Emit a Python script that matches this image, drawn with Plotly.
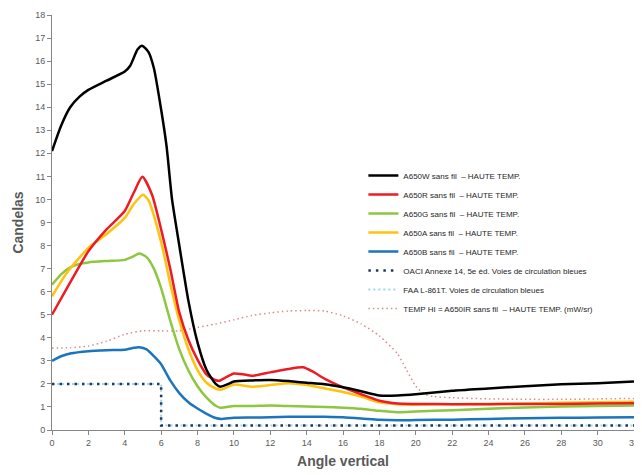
import plotly.graph_objects as go

x_w = [0, 0.5, 1, 1.5, 2, 3, 4, 4.3, 4.7, 4.95, 5.3, 5.6, 6, 6.3, 6.6, 7, 7.5, 8, 8.5, 9, 9.25, 9.7, 10, 11, 12, 13, 14, 15, 16, 17, 18, 19, 20, 22, 24, 26, 28, 30, 32]
y_w = [12.1, 13.2, 14.0, 14.45, 14.75, 15.15, 15.55, 15.8, 16.5, 16.67, 16.4, 15.7, 13.9, 12.3, 10.0, 8.0, 5.6, 3.8, 2.6, 2.0, 1.88, 2.0, 2.1, 2.15, 2.17, 2.12, 2.05, 1.98, 1.85, 1.68, 1.5, 1.5, 1.55, 1.7, 1.8, 1.9, 1.98, 2.03, 2.1]

x_r = [0, 1, 2, 3, 4, 4.5, 4.97, 5.5, 6, 6.5, 7, 7.5, 8, 8.5, 9, 9.2, 9.6, 10, 10.5, 11, 12, 13, 13.8, 14.3, 15, 16, 17, 18, 19, 20, 22, 24, 26, 28, 30, 32]
y_r = [5.0, 6.4, 7.75, 8.7, 9.5, 10.3, 10.98, 10.2, 8.7, 7.0, 5.1, 3.9, 3.05, 2.4, 2.16, 2.14, 2.3, 2.45, 2.42, 2.35, 2.5, 2.65, 2.72, 2.55, 2.22, 1.85, 1.55, 1.27, 1.15, 1.13, 1.12, 1.12, 1.13, 1.13, 1.15, 1.16]

x_g = [0, 0.5, 1, 1.5, 2, 3, 4, 4.4, 4.8, 5.2, 5.6, 6, 6.5, 7, 7.5, 8, 8.5, 9, 9.25, 10, 11, 12, 13, 14, 15, 16, 17, 18, 19, 20, 22, 24, 26, 28, 30, 32]
y_g = [6.3, 6.75, 7.05, 7.2, 7.27, 7.33, 7.38, 7.5, 7.65, 7.5, 7.0, 6.15, 4.75, 3.5, 2.58, 1.9, 1.4, 1.05, 0.97, 1.04, 1.04, 1.06, 1.04, 1.02, 1.0, 0.97, 0.92, 0.83, 0.77, 0.8, 0.86, 0.92, 0.98, 1.02, 1.04, 1.06]

x_a = [0, 0.8, 2, 3, 4, 4.5, 5, 5.3, 6, 6.5, 7, 7.5, 8, 8.5, 9, 9.3, 10, 11, 12, 13, 14, 15, 16, 17, 18, 19, 20, 22, 24, 26, 28, 30, 32]
y_a = [5.8, 6.8, 7.9, 8.5, 9.2, 9.8, 10.2, 9.97, 8.15, 6.35, 4.75, 3.5, 2.6, 2.05, 1.8, 1.75, 1.97, 1.88, 1.95, 2.03, 1.95, 1.8, 1.65, 1.45, 1.2, 1.12, 1.1, 1.12, 1.13, 1.15, 1.18, 1.2, 1.23]

x_b = [0, 0.5, 1, 2, 3, 4, 4.4, 4.8, 5.2, 5.6, 6, 6.5, 7, 7.5, 8, 8.5, 9, 9.3, 10, 11, 12, 13, 14, 15, 16, 17, 18, 19, 20, 22, 24, 26, 28, 30, 32]
y_b = [3.0, 3.2, 3.32, 3.42, 3.46, 3.48, 3.55, 3.59, 3.5, 3.2, 2.85, 2.15, 1.6, 1.2, 0.93, 0.7, 0.52, 0.48, 0.53, 0.54, 0.55, 0.57, 0.58, 0.57, 0.55, 0.5, 0.44, 0.42, 0.43, 0.45, 0.48, 0.51, 0.53, 0.54, 0.55]

x_oaci = [0, 6, 6, 32]
y_oaci = [2, 2, 0.2, 0.2]

x_faa = [0, 6, 6, 32]
y_faa = [2, 2, 0.2, 0.2]

x_ir = [0, 1, 2, 3, 4, 5, 6, 7, 8, 9, 10, 11, 12, 13, 14, 15, 16, 17, 18, 19, 19.5, 20, 20.5, 21, 22, 24, 26, 28, 30, 32]
y_ir = [3.55, 3.57, 3.64, 3.85, 4.15, 4.3, 4.3, 4.3, 4.45, 4.6, 4.78, 4.97, 5.08, 5.16, 5.18, 5.16, 4.95, 4.6, 4.08, 3.3, 2.6, 1.9, 1.55, 1.45, 1.4, 1.35, 1.33, 1.33, 1.35, 1.37]

names = [
    "A650W sans fil  – HAUTE TEMP.",
    "A650R sans fil  – HAUTE TEMP.",
    "A650G sans fil  – HAUTE TEMP.",
    "A650A sans fil  – HAUTE TEMP.",
    "A650B sans fil  – HAUTE TEMP.",
    "OACI Annexe 14, 5e éd. Voies de circulation bleues",
    "FAA L-861T. Voies de circulation bleues",
    "TEMP HI = A650IR sans fil  – HAUTE TEMP. (mW/sr)",
]

x_ticks = list(range(0, 33, 2))
y_ticks = list(range(0, 19))

fig = go.Figure()

fig.add_trace(go.Scatter(x=x_ir, y=y_ir, mode="lines", name=names[7], legendrank=8,
                         line=dict(color="#d98c8c", width=1.5, dash="1.5px,3px", shape="spline", smoothing=0.6)))
fig.add_trace(go.Scatter(x=x_faa, y=y_faa, mode="lines", name=names[6], legendrank=7,
                         line=dict(color="#9fd6e8", width=2, dash="2px,3px")))
fig.add_trace(go.Scatter(x=x_oaci, y=y_oaci, mode="lines", name=names[5], legendrank=6,
                         line=dict(color="#1f3864", width=2.5, dash="2.5px,5px")))

series = [
    (x_b, y_b, "#1b75bc", names[4], 5),
    (x_g, y_g, "#8dc63f", names[2], 3),
    (x_a, y_a, "#ffc20e", names[3], 4),
    (x_r, y_r, "#ed1c24", names[1], 2),
    (x_w, y_w, "#000000", names[0], 1),
]
for xs, ys, col, nm, rk in series:
    fig.add_trace(go.Scatter(x=xs, y=ys, mode="lines", name=nm, legendrank=rk,
                             line=dict(color=col, width=2.5, shape="spline", smoothing=0.6)))

axis_font = dict(family="Liberation Sans, Arial", size=9, color="#595959")
fig.update_layout(
    width=634, height=467,
    margin=dict(l=44, r=8, t=7, b=45),
    paper_bgcolor="white", plot_bgcolor="white",
    showlegend=True,
    legend=dict(x=0.535, y=0.648, xanchor="left", yanchor="top",
                font=dict(family="Liberation Sans, Arial", size=8, color="#262626"),
                bgcolor="rgba(0,0,0,0)", tracegroupgap=0, itemwidth=30),
    xaxis=dict(range=[0, 32], tickvals=x_ticks, ticktext=[str(v) for v in x_ticks],
               automargin=False, ticklabeloverflow="allow",
               showgrid=False, zeroline=False, showline=True, linecolor="#868686", linewidth=1,
               ticks="outside", ticklen=4, tickcolor="#868686", tickfont=axis_font,
               title=dict(text="Angle vertical", standoff=9,
                          font=dict(family="Liberation Sans, Arial", size=14, color="#595959", weight="bold"))),
    yaxis=dict(range=[0, 18], tickvals=y_ticks, ticktext=[str(v) for v in y_ticks],
               automargin=False,
               showgrid=False, zeroline=False, showline=True, linecolor="#868686", linewidth=1,
               ticks="outside", ticklen=4, tickcolor="#868686", tickfont=axis_font,
               title=dict(text="Candelas", standoff=8,
                          font=dict(family="Liberation Sans, Arial", size=14, color="#595959", weight="bold"))),
)

fig.write_html("out.html")
